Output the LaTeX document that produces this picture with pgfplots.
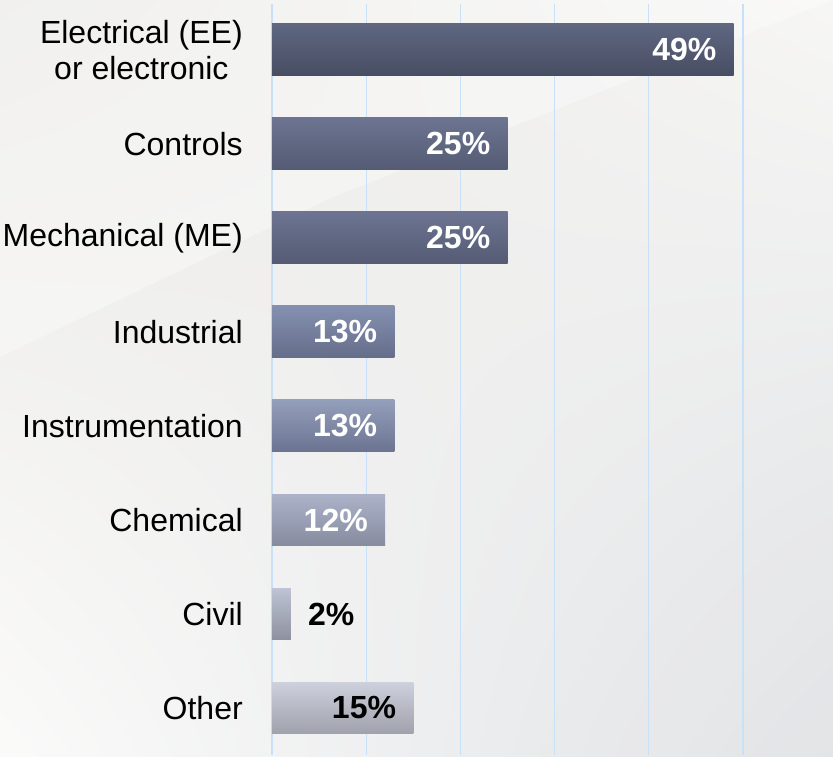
\documentclass[border=0pt]{standalone}
\usepackage{fontspec}
\setmainfont{Liberation Sans}
\usepackage{pgfplots}
\pgfplotsset{compat=1.18}
\usetikzlibrary{shadings}

\begin{document}
\begin{tikzpicture}

\definecolor{bgtl}{RGB}{234,233,230}
\definecolor{bgbr}{RGB}{224,226,229}
\definecolor{gridblue}{RGB}{200,225,248}
\definecolor{eeT}{RGB}{95,103,129}
\definecolor{eeB}{RGB}{71,77,98}
\definecolor{coT}{RGB}{108,116,145}
\definecolor{coB}{RGB}{85,91,116}
\definecolor{inT}{RGB}{133,144,177}
\definecolor{inB}{RGB}{101,109,137}
\definecolor{isT}{RGB}{148,159,187}
\definecolor{isB}{RGB}{107,115,145}
\definecolor{chT}{RGB}{172,179,201}
\definecolor{chB}{RGB}{134,139,159}
\definecolor{ciT}{RGB}{190,195,213}
\definecolor{ciB}{RGB}{141,145,157}
\definecolor{otT}{RGB}{205,209,221}
\definecolor{otB}{RGB}{159,161,171}

% background, same size as the reference (1px = 0.75pt)
\path[use as bounding box] (0,0) rectangle (624.75pt,567.75pt);
\shade[upper left=bgtl, upper right=white!60!bgtl, lower left=white!80!bgtl, lower right=bgbr]
  (0,0) rectangle (624.75pt,567.75pt);
\fill[white, opacity=0.35] (0,300pt) -- (250pt,420pt) -- (624.75pt,567.75pt) -- (0,567.75pt) -- cycle;
\fill[black!8, opacity=0.25] (380pt,0) -- (624.75pt,260pt) -- (624.75pt,0) -- cycle;

\pgfplotsset{
  mybar/.style={xbar, bar width=0.553, bar shift=0pt, draw=none,
    nodes near coords={\pgfmathprintnumber[assume math mode=true]{\pgfplotspointmeta}\%}},
  inlabel/.style={every node near coord/.append style={anchor=east, xshift=-12.75pt, text=#1}},
}

\begin{axis}[
  at={(204pt,1.5pt)}, anchor=south west,
  scale only axis,
  width=420.75pt, height=563.25pt,
  xmin=0, xmax=59.55,
  ymin=-0.489, ymax=7.5,
  y dir=reverse,
  clip=false,
  axis line style={draw=none},
  tick style={draw=none},
  xtick={0,10,20,30,40,50},
  xticklabels={},
  xmajorgrids,
  grid style={gridblue, line width=1pt},
  ytick={0,1,2,3,4,5,6,7},
  yticklabels={{Electrical (EE)\\or electronic},Controls,Mechanical (ME),Industrial,Instrumentation,Chemical,Civil,Other},
  yticklabel style={font=\fontsize{24}{27.5}\selectfont, align=center, anchor=east, inner sep=0pt, xshift=-21.75pt},
  nodes near coords style={font=\fontsize{24}{27.5}\selectfont\bfseries, inner sep=0pt},
]
\addplot[mybar, top color=eeT, bottom color=eeB, inlabel=white] coordinates {(49,0)};
\addplot[mybar, top color=coT, bottom color=coB, inlabel=white] coordinates {(25,1)};
\addplot[mybar, top color=coT, bottom color=coB, inlabel=white] coordinates {(25,2)};
\addplot[mybar, top color=inT, bottom color=inB, inlabel=white] coordinates {(13,3)};
\addplot[mybar, top color=isT, bottom color=isB, inlabel=white] coordinates {(13,4)};
\addplot[mybar, top color=chT, bottom color=chB, inlabel=white] coordinates {(12,5)};
\addplot[mybar, top color=ciT, bottom color=ciB,
  every node near coord/.append style={anchor=west, xshift=12.75pt, text=black}] coordinates {(2,6)};
\addplot[mybar, top color=otT, bottom color=otB, inlabel=black] coordinates {(15,7)};
\end{axis}

\end{tikzpicture}
\end{document}
